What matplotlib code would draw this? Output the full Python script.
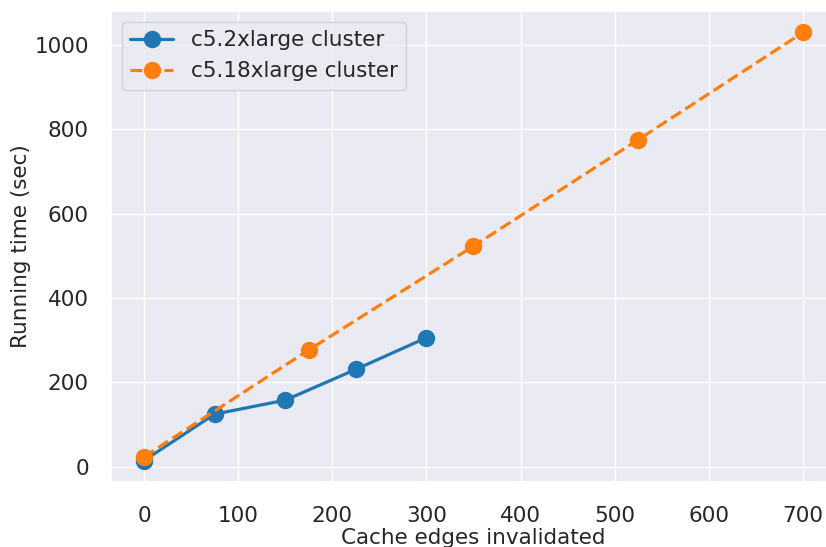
import matplotlib
matplotlib.use("Agg")
import matplotlib.pyplot as plt
import seaborn as sns

sns.set_theme(style="darkgrid")
plt.rcParams.update({
    "font.size": 15.5,
    "axes.labelsize": 15.5,
    "xtick.labelsize": 15.5,
    "ytick.labelsize": 15.5,
    "legend.fontsize": 15.5,
    "xtick.major.pad": 11,
    "ytick.major.pad": 10,
})

edges_small = [0, 75, 150, 225, 300]
time_small = [15, 125, 158, 231, 306]
edges_large = [0, 175, 350, 525, 700]
time_large = [24, 277, 523, 775, 1029]

fig = plt.figure(figsize=(8.26, 5.47), dpi=100)
ax = fig.add_axes([111 / 826, 65 / 547, 725 / 826, 471 / 547])

ax.plot(edges_small, time_small, "-o", color="#1f77b4", lw=2.3, ms=11.5,
        label="c5.2xlarge cluster")
ax.plot(edges_large, time_large, "--o", color="#ff7f0e", lw=2.3, ms=11.5,
        label="c5.18xlarge cluster")

ax.set_xlabel("Cache edges invalidated", labelpad=2)
ax.set_ylabel("Running time (sec)", labelpad=2)
ax.set_xticks([0, 100, 200, 300, 400, 500, 600, 700])
ax.set_yticks([0, 200, 400, 600, 800, 1000])
ax.legend(loc="upper left")

fig.savefig("out.png", dpi=100)
